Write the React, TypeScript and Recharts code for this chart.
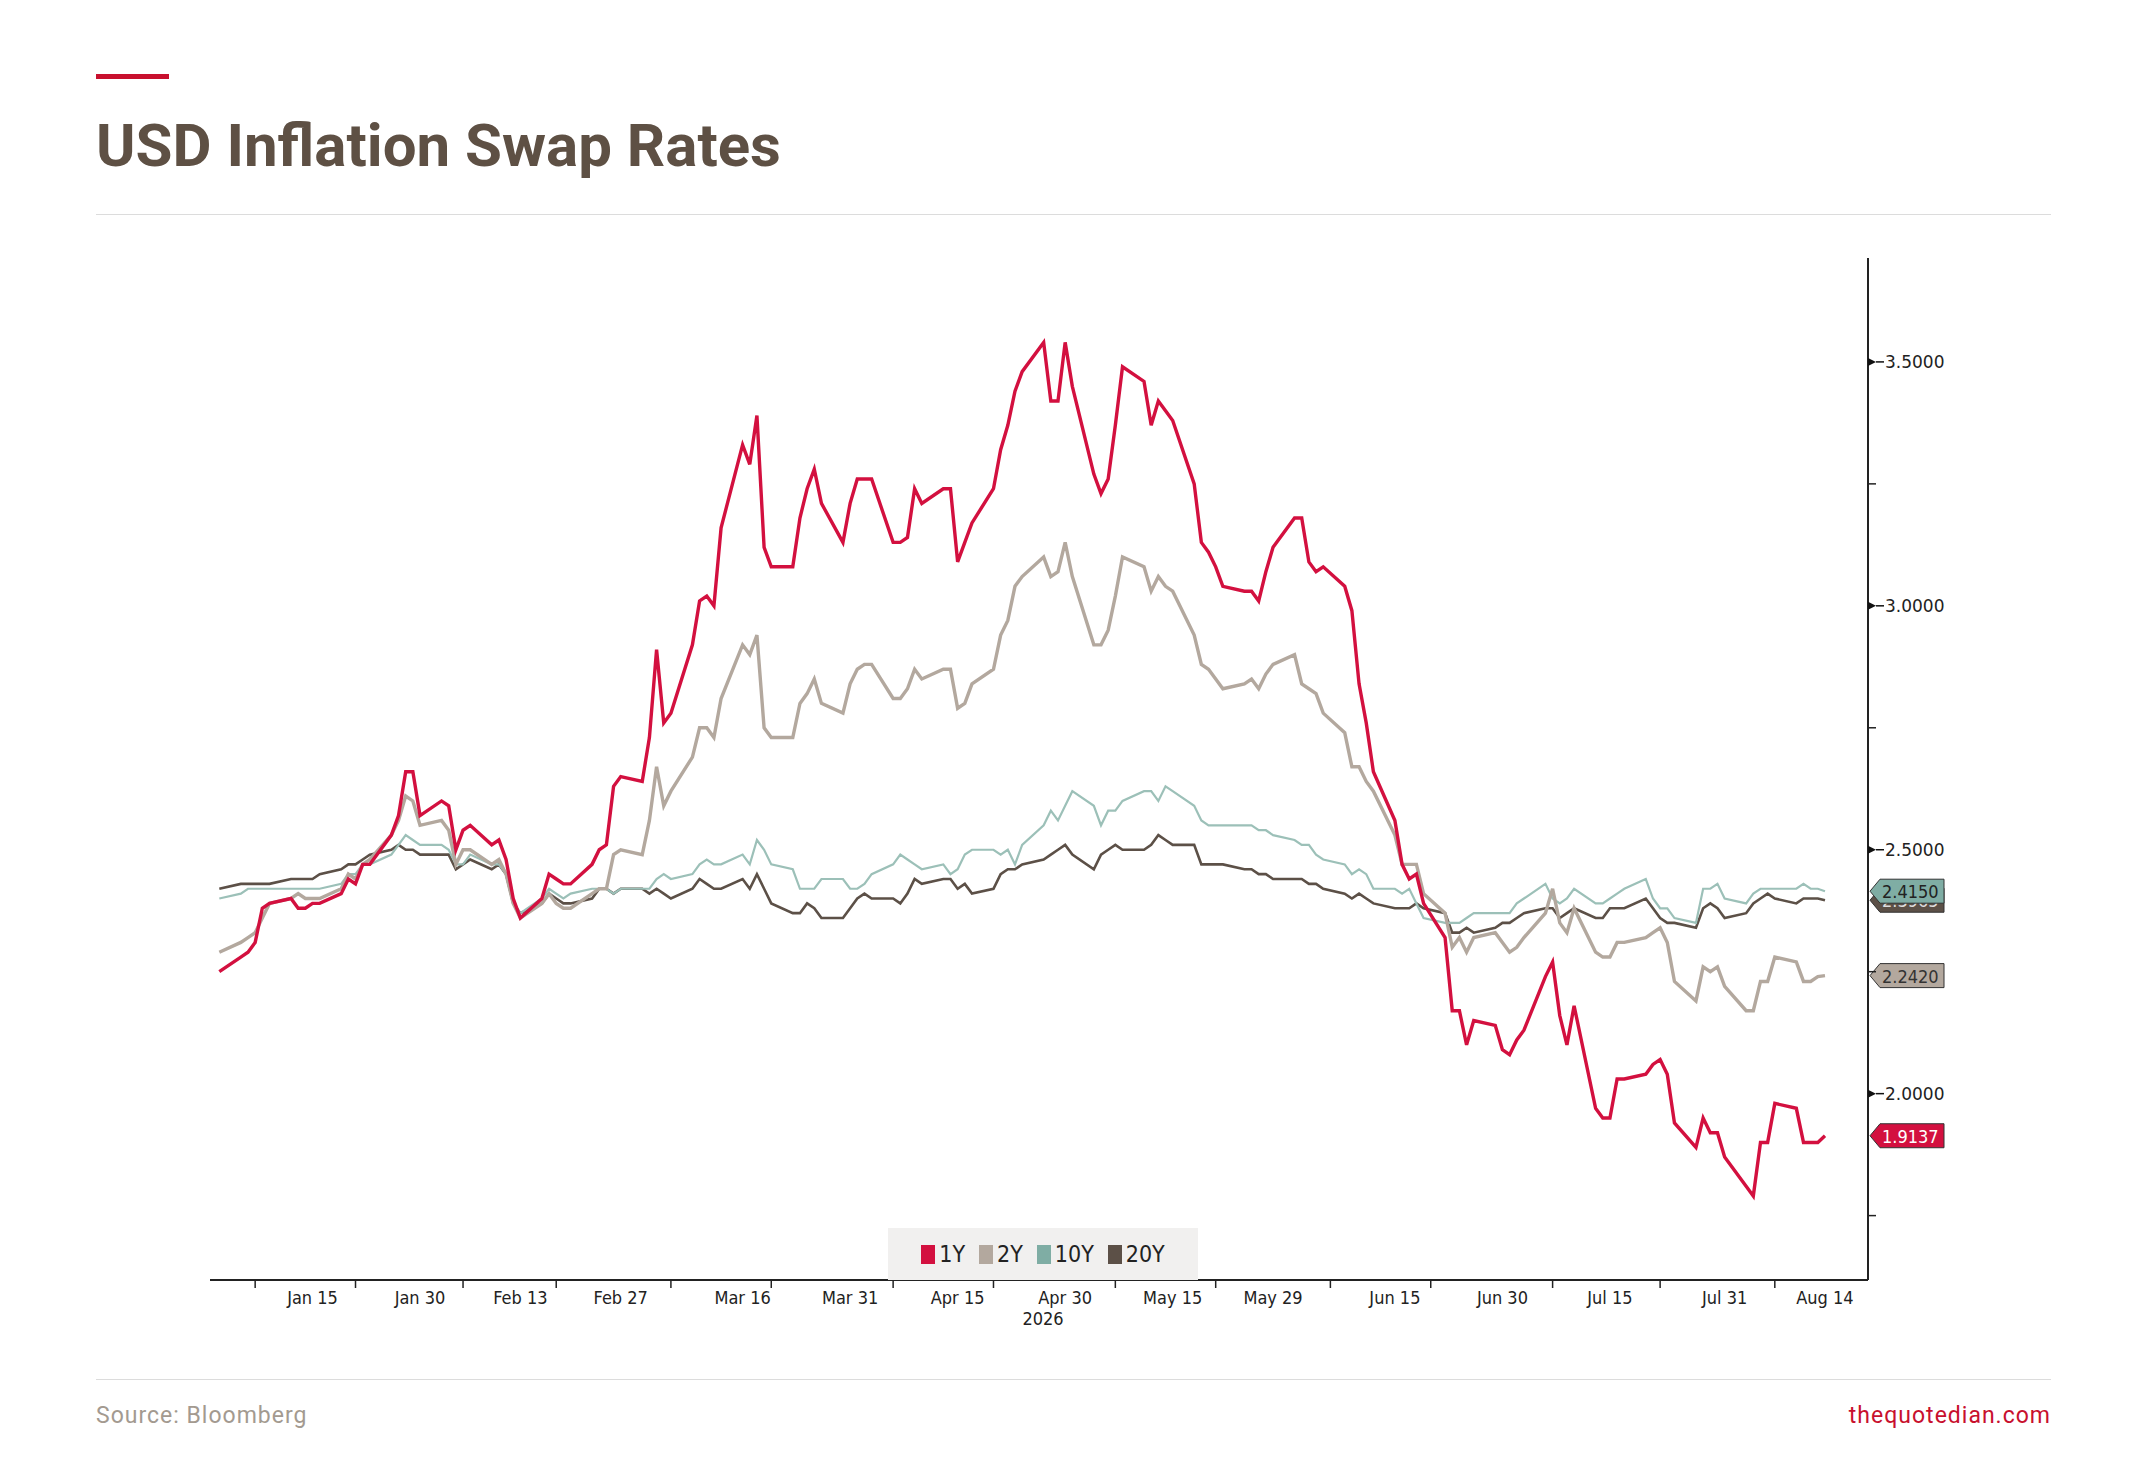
import { LineChart, Line, XAxis, YAxis, ReferenceLine } from 'recharts'

const series1Y = [
  2.25, 2.28, 2.29, 2.31, 2.38, 2.39, 2.4, 2.38, 2.38, 2.39,
  2.39, 2.41, 2.44, 2.43, 2.47, 2.47, 2.53, 2.57, 2.66, 2.66,
  2.57, 2.6, 2.59, 2.5, 2.54, 2.55, 2.51, 2.52, 2.48, 2.4,
  2.36, 2.4, 2.45, 2.44, 2.43, 2.43, 2.47, 2.5, 2.51, 2.63,
  2.65, 2.64, 2.73, 2.91, 2.76, 2.78, 2.92, 3.01, 3.02, 3.0,
  3.16, 3.33, 3.29, 3.39, 3.12, 3.08, 3.08, 3.18, 3.24, 3.28,
  3.21, 3.13, 3.21, 3.26, 3.26, 3.26, 3.13, 3.13, 3.14, 3.24,
  3.21, 3.24, 3.24, 3.09, 3.13, 3.17, 3.24, 3.32, 3.37, 3.44,
  3.48, 3.54, 3.42, 3.42, 3.54, 3.45, 3.27, 3.23, 3.26, 3.37,
  3.49, 3.46, 3.37, 3.42, 3.4, 3.38, 3.25, 3.13, 3.11, 3.08,
  3.04, 3.03, 3.03, 3.01, 3.07, 3.12, 3.18, 3.18, 3.09, 3.07,
  3.08, 3.04, 2.99, 2.84, 2.76, 2.66, 2.56, 2.47, 2.44, 2.45,
  2.39, 2.32, 2.17, 2.17, 2.1, 2.15, 2.14, 2.09, 2.08, 2.11,
  2.13, 2.24, 2.27, 2.16, 2.1, 2.18, 1.97, 1.95, 1.95, 2.03,
  2.03, 2.04, 2.06, 2.07, 2.04, 1.94, 1.89, 1.95, 1.92, 1.92,
  1.87, 1.81, 1.79, 1.9, 1.9, 1.98, 1.97, 1.9, 1.9, 1.9,
  1.9137,
]

const series2Y = [
  2.29, 2.31, 2.32, 2.33, 2.36, 2.39, 2.4, 2.41, 2.4, 2.4,
  2.4, 2.42, 2.45, 2.44, 2.47, 2.48, 2.53, 2.56, 2.61, 2.6,
  2.55, 2.56, 2.54, 2.47, 2.5, 2.5, 2.47, 2.48, 2.45, 2.39,
  2.36, 2.39, 2.41, 2.39, 2.38, 2.38, 2.41, 2.42, 2.42, 2.49,
  2.5, 2.49, 2.56, 2.67, 2.59, 2.62, 2.69, 2.75, 2.75, 2.73,
  2.81, 2.92, 2.9, 2.94, 2.75, 2.73, 2.73, 2.8, 2.82, 2.85,
  2.8, 2.78, 2.84, 2.87, 2.88, 2.88, 2.81, 2.81, 2.83, 2.87,
  2.85, 2.87, 2.87, 2.79, 2.8, 2.84, 2.87, 2.94, 2.97, 3.04,
  3.06, 3.1, 3.06, 3.07, 3.13, 3.06, 2.92, 2.92, 2.95, 3.02,
  3.1, 3.08, 3.03, 3.06, 3.04, 3.03, 2.94, 2.88, 2.87, 2.85,
  2.83, 2.84, 2.85, 2.83, 2.86, 2.88, 2.9, 2.84, 2.83, 2.82,
  2.78, 2.74, 2.67, 2.67, 2.64, 2.62, 2.53, 2.47, 2.47, 2.47,
  2.41, 2.37, 2.3, 2.32, 2.29, 2.32, 2.33, 2.31, 2.29, 2.3,
  2.32, 2.37, 2.42, 2.35, 2.33, 2.38, 2.29, 2.28, 2.28, 2.31,
  2.31, 2.32, 2.33, 2.34, 2.31, 2.23, 2.19, 2.26, 2.25, 2.26,
  2.22, 2.17, 2.17, 2.23, 2.23, 2.28, 2.27, 2.23, 2.23, 2.24,
  2.242,
]

const series10Y = [
  2.4, 2.41, 2.42, 2.42, 2.42, 2.42, 2.42, 2.42, 2.42, 2.42,
  2.42, 2.43, 2.45, 2.45, 2.47, 2.47, 2.49, 2.51, 2.53, 2.52,
  2.51, 2.51, 2.5, 2.47, 2.47, 2.49, 2.47, 2.47, 2.45, 2.39,
  2.37, 2.4, 2.42, 2.41, 2.4, 2.41, 2.42, 2.42, 2.42, 2.41,
  2.42, 2.42, 2.42, 2.44, 2.45, 2.44, 2.45, 2.47, 2.48, 2.47,
  2.47, 2.49, 2.47, 2.52, 2.5, 2.47, 2.46, 2.42, 2.42, 2.42,
  2.44, 2.44, 2.42, 2.42, 2.43, 2.45, 2.47, 2.49, 2.48, 2.47,
  2.46, 2.47, 2.45, 2.46, 2.49, 2.5, 2.5, 2.49, 2.5, 2.47,
  2.51, 2.55, 2.58, 2.56, 2.59, 2.62, 2.59, 2.55, 2.58, 2.58,
  2.6, 2.62, 2.62, 2.6, 2.63, 2.62, 2.59, 2.56, 2.55, 2.55,
  2.55, 2.55, 2.55, 2.54, 2.54, 2.53, 2.52, 2.51, 2.51, 2.49,
  2.48, 2.47, 2.45, 2.46, 2.45, 2.42, 2.42, 2.41, 2.42, 2.39,
  2.36, 2.35, 2.35, 2.35, 2.36, 2.37, 2.37, 2.37, 2.37, 2.39,
  2.4, 2.43, 2.4, 2.39, 2.4, 2.42, 2.39, 2.39, 2.4, 2.41,
  2.42, 2.44, 2.4, 2.38, 2.38, 2.36, 2.35, 2.42, 2.42, 2.43,
  2.4, 2.39, 2.41, 2.42, 2.42, 2.42, 2.42, 2.43, 2.42, 2.42,
  2.415,
]

const series20Y = [
  2.42, 2.43, 2.43, 2.43, 2.43, 2.43, 2.44, 2.44, 2.44, 2.44,
  2.45, 2.46, 2.47, 2.47, 2.48, 2.49, 2.5, 2.51, 2.5, 2.5,
  2.49, 2.49, 2.49, 2.46, 2.47, 2.48, 2.46, 2.47, 2.45, 2.39,
  2.37, 2.39, 2.41, 2.4, 2.39, 2.39, 2.4, 2.42, 2.42, 2.41,
  2.42, 2.42, 2.41, 2.42, 2.41, 2.4, 2.42, 2.44, 2.43, 2.42,
  2.42, 2.44, 2.42, 2.45, 2.42, 2.39, 2.37, 2.37, 2.39, 2.38,
  2.36, 2.36, 2.38, 2.4, 2.41, 2.4, 2.4, 2.39, 2.41, 2.44,
  2.43, 2.44, 2.44, 2.42, 2.43, 2.41, 2.42, 2.45, 2.46, 2.46,
  2.47, 2.48, 2.49, 2.5, 2.51, 2.49, 2.46, 2.49, 2.5, 2.51,
  2.5, 2.5, 2.51, 2.53, 2.52, 2.51, 2.51, 2.47, 2.47, 2.47,
  2.47, 2.46, 2.46, 2.45, 2.45, 2.44, 2.44, 2.44, 2.43, 2.43,
  2.42, 2.41, 2.4, 2.41, 2.4, 2.39, 2.38, 2.38, 2.38, 2.39,
  2.38, 2.37, 2.33, 2.33, 2.34, 2.33, 2.34, 2.35, 2.35, 2.36,
  2.37, 2.38, 2.38, 2.36, 2.37, 2.38, 2.36, 2.36, 2.38, 2.38,
  2.38, 2.4, 2.38, 2.36, 2.35, 2.35, 2.34, 2.38, 2.39, 2.38,
  2.36, 2.37, 2.39, 2.4, 2.41, 2.4, 2.39, 2.4, 2.4, 2.4,
  2.3965,
]

const tickLabels = [
  '2026-01-15', '2026-01-30', '2026-02-13', '2026-02-27', '2026-03-16', '2026-03-31',
  '2026-04-15', '2026-04-30', '2026-05-15', '2026-05-29', '2026-06-15', '2026-06-30',
  '2026-07-15', '2026-07-31', '2026-08-14',
]
const tickMarks = [
  '2026-01-07', '2026-01-21', '2026-02-05', '2026-02-18', '2026-03-06', '2026-03-20',
  '2026-04-06', '2026-04-20', '2026-05-07', '2026-05-21', '2026-06-06', '2026-06-20',
  '2026-07-07', '2026-07-22', '2026-08-07',
]
const yTicks = [1.75, 2.0, 2.25, 2.5, 2.75, 3.0, 3.25, 3.5]

const DAY = 86400000
const MONTHS = ['Jan', 'Feb', 'Mar', 'Apr', 'May', 'Jun', 'Jul', 'Aug', 'Sep', 'Oct', 'Nov', 'Dec']
const ts = (s: string) => Date.parse(s + 'T00:00:00Z')

// business days from Jan 2, one per data point
const dates: number[] = []
{
  let t = ts('2026-01-02')
  while (dates.length < series1Y.length) {
    const d = new Date(t).getUTCDay()
    if (d !== 0 && d !== 6) dates.push(t)
    t += DAY
  }
}

const rows = dates.map((date, i) => ({
  date,
  y1: series1Y[i],
  y2: series2Y[i],
  y10: series10Y[i],
  y20: series20Y[i],
}))

const SERIES = [
  { key: 'y1', name: '1Y', color: '#d3103f', width: 3.4, last: 1.9137, tag: '1.9137', text: '#fff', fill: '#d3103f' },
  { key: 'y2', name: '2Y', color: '#b3a89e', width: 3.4, last: 2.242, tag: '2.2420', text: '#333', fill: '#b3a89e' },
  { key: 'y10', name: '10Y', color: '#9cc0b8', width: 2.2, last: 2.415, tag: '2.4150', text: '#222', fill: '#7fada4' },
  { key: 'y20', name: '20Y', color: '#5c5047', width: 2.6, last: 2.3965, tag: '2.3965', text: '#ddd', fill: '#5c5047' },
]

const NARROW = '"Liberation Sans Narrow", "Arial Narrow", "DejaVu Sans Condensed", sans-serif'
const labelSet = new Set(tickLabels.map(ts))

const XTick = (props: any) => {
  const { x, y, payload } = props
  if (labelSet.has(payload.value)) {
    const d = new Date(payload.value)
    return (
      <text x={x} y={y + 16} textAnchor="middle" fontSize={18} fontFamily={NARROW} fill="#222">
        {MONTHS[d.getUTCMonth()]} {d.getUTCDate()}
      </text>
    )
  }
  return <line x1={x} x2={x} y1={y - 8} y2={y} stroke="#222" strokeWidth={1.5} />
}

const YTick = (props: any) => {
  const { x, y, payload } = props
  const major = Math.abs(payload.value * 2 - Math.round(payload.value * 2)) < 1e-6
  if (!major) return <line x1={x - 8} x2={x} y1={y} y2={y} stroke="#222" strokeWidth={1.5} />
  return (
    <g>
      <path d={`M${x - 8},${y - 4} L${x},${y} L${x - 8},${y + 4} Z`} fill="#111" />
      <line x1={x} x2={x + 8} y1={y} y2={y} stroke="#111" strokeWidth={1.5} />
      <text x={x + 9} y={y + 6} fontSize={17} fontFamily="Verdana, 'DejaVu Sans', sans-serif" fill="#222">
        {payload.value.toFixed(4)}
      </text>
    </g>
  )
}

const tagLabel = (s: (typeof SERIES)[number]) => (props: any) => {
  const vb = props.viewBox
  const x0 = vb.x + vb.width + 2
  const y = vb.y
  const h = 24
  const w = 64
  return (
    <g>
      <path
        d={`M${x0},${y} L${x0 + 10},${y - h / 2} L${x0 + 10 + w},${y - h / 2} L${x0 + 10 + w},${y + h / 2} L${x0 + 10},${y + h / 2} Z`}
        fill={s.fill}
        stroke="#333"
        strokeWidth={1}
      />
      <text x={x0 + 12} y={y + 7} fontSize={18} fontFamily="'DejaVu Sans Condensed', sans-serif" fill={s.text}>
        {s.tag}
      </text>
    </g>
  )
}

export default function App() {
  const x0 = ts('2026-01-02') - 1.3 * DAY
  const x1 = ts('2026-01-02') + 230 * DAY
  return (
    <div style={{ position: 'absolute', left: 0, top: 0, width: 2145, height: 1458, background: '#fff', fontFamily: 'Roboto, sans-serif' }}>
      <div style={{ position: 'absolute', left: 96, top: 74, width: 73, height: 5, background: '#c8102e' }} />
      <div style={{ position: 'absolute', left: 96, top: 110, fontSize: 60, fontWeight: 700, color: '#5e5044', fontFamily: 'Roboto, sans-serif' }}>
        USD Inflation Swap Rates
      </div>
      <div style={{ position: 'absolute', left: 96, top: 214, width: 1955, height: 1, background: '#dcdcdc' }} />

      <div style={{ position: 'absolute', left: 0, top: 0 }}>
        <LineChart width={2145} height={1400} data={rows} margin={{ top: 258, right: 157, bottom: 60, left: 210 }}>
          <XAxis
            dataKey="date"
            type="number"
            domain={[x0, x1]}
            allowDataOverflow
            ticks={[...tickMarks.map(ts), ...tickLabels.map(ts)].sort((a, b) => a - b)}
            tick={<XTick />}
            tickLine={false}
            axisLine={{ stroke: '#222', strokeWidth: 2 }}
            height={60}
            interval={0}
          />
          <YAxis
            orientation="right"
            domain={[1.618, 3.713]}
            allowDataOverflow
            ticks={yTicks}
            tick={<YTick />}
            tickLine={false}
            axisLine={{ stroke: '#222', strokeWidth: 2 }}
            width={120}
            interval={0}
          />
          {[...SERIES].reverse().map((s) => (
            <Line
              key={s.key}
              type="linear"
              dataKey={s.key}
              name={s.name}
              stroke={s.color}
              strokeWidth={s.width}
              dot={false}
              isAnimationActive={false}
            />
          ))}
          {[...SERIES].reverse().map((s) => (
            <ReferenceLine key={s.key} y={s.last} stroke="none" ifOverflow="visible" label={{ content: tagLabel(s) }} />
          ))}
        </LineChart>
      </div>

      <div
        style={{
          position: 'absolute',
          left: 888,
          top: 1228,
          width: 310,
          height: 52,
          background: '#f1f0ef',
          display: 'flex',
          alignItems: 'center',
          justifyContent: 'center',
          gap: 14,
          fontFamily: NARROW,
          fontSize: 23,
          color: '#222',
        }}
      >
        {SERIES.map((s) => (
          <span key={s.key} style={{ display: 'flex', alignItems: 'center', gap: 4 }}>
            <span style={{ width: 14, height: 19, background: s.fill, display: 'inline-block' }} />
            {s.name}
          </span>
        ))}
      </div>

      <div style={{ position: 'absolute', left: 1043, top: 1308, transform: 'translateX(-50%)', fontSize: 18, fontFamily: NARROW, color: '#222' }}>
        2026
      </div>

      <div style={{ position: 'absolute', left: 96, top: 1379, width: 1955, height: 1, background: '#dcdcdc' }} />
      <div style={{ position: 'absolute', left: 96, top: 1402, fontSize: 23, letterSpacing: 1, color: '#a39a90', fontFamily: 'Roboto, sans-serif' }}>
        Source: Bloomberg
      </div>
      <div style={{ position: 'absolute', right: 94, top: 1402, fontSize: 23, letterSpacing: 1, color: '#c8102e', fontFamily: 'Roboto, sans-serif' }}>
        thequotedian.com
      </div>
    </div>
  )
}
